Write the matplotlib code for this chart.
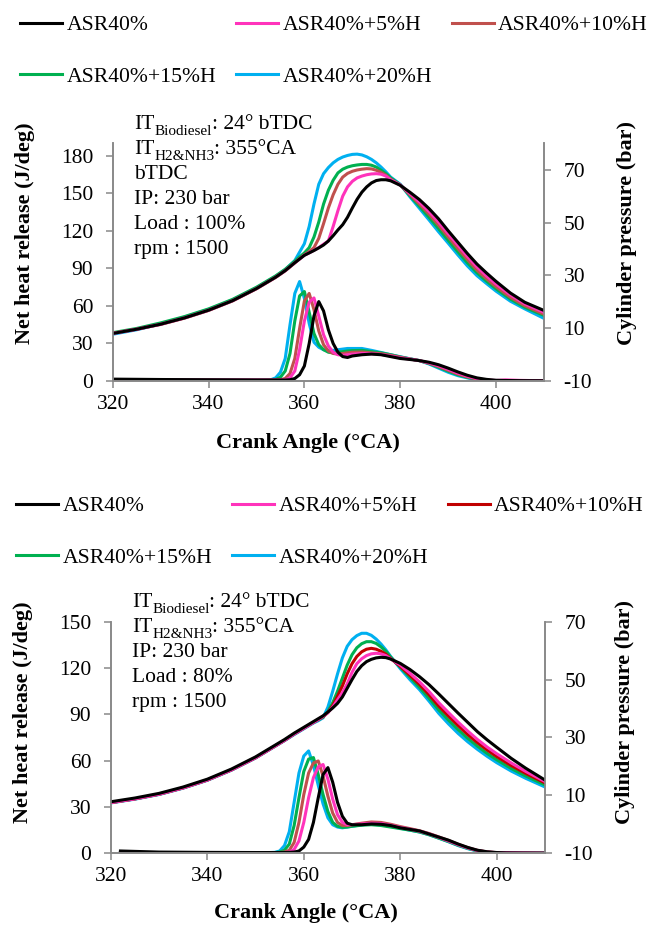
import matplotlib
matplotlib.use('Agg')
import matplotlib.pyplot as plt

plt.rcParams['font.family'] = ['Liberation Serif', 'DejaVu Serif']
plt.rcParams['axes.unicode_minus'] = False

labels = ['ASR40%', 'ASR40%+5%H', 'ASR40%+10%H', 'ASR40%+15%H', 'ASR40%+20%H']

# crank angle grids
ca_p = [320, 325, 330, 335, 340, 345, 350, 354, 356, 358,
        360, 361, 362, 363, 364, 365, 366, 367, 368, 369, 370, 371, 372, 373, 374, 375, 376, 377, 378,
        380, 382, 384, 386, 388, 390, 392, 394, 396, 398, 400, 403, 406, 410]
ca_h = [320, 330, 340, 350, 352, 353, 354, 355, 356, 357, 358, 359, 360, 361, 362, 363, 364, 365, 366,
        367, 368, 369, 370, 372, 374, 376, 378, 380, 382, 384, 386, 388, 390, 392, 394, 396, 398, 400,
        402, 405, 410]
ca_h2 = [322] + ca_h[1:]

# ---- load 100 % : cylinder pressure (bar)
p100_base = [8.0, 9.6, 11.5, 13.9, 16.8, 20.4, 25.0, 29.3, 31.8, 34.8,
             37.6, 38.5, 39.4, 40.4, 41.5, 43.0, 45.0, 47.2, 49.2, 52.0, 55.5, 58.8, 61.5, 63.5, 65.0, 65.9, 66.2, 66.2, 65.8,
             64.1, 61.5, 58.7, 55.3, 51.4, 46.9, 42.6, 38.3, 34.3, 30.9, 27.7, 23.3, 19.8, 16.7]
p100_h5 = [8.0, 9.6, 11.5, 13.9, 16.8, 20.4, 25.0, 29.3, 31.8, 34.8,
           37.6, 38.5, 39.5, 40.5, 41.8, 43.0, 48.5, 54.5, 60.0, 63.5, 65.6, 66.9, 67.6, 68.1, 68.4, 68.5, 68.3, 67.6, 66.2,
           64.2, 61.0, 57.8, 54.2, 50.2, 45.8, 41.5, 37.2, 33.2, 29.8, 26.7, 22.6, 19.2, 16.0]
p100_h10 = [8.1, 9.6, 11.4, 13.8, 16.7, 20.3, 24.9, 29.2, 31.7, 34.7,
            37.8, 39.0, 40.5, 44.0, 49.6, 55.5, 60.5, 64.5, 67.2, 68.6, 69.4, 69.9, 70.2, 70.4, 70.3, 69.8, 69.0, 67.9, 66.4,
            64.2, 60.6, 57.0, 53.2, 49.0, 44.6, 40.2, 36.0, 32.0, 28.7, 25.7, 21.7, 18.5, 15.3]
p100_h15 = [8.3, 9.9, 12.0, 14.4, 17.3, 20.9, 25.5, 29.8, 32.3, 35.4,
            38.5, 40.5, 44.5, 50.2, 57.0, 62.2, 66.0, 68.8, 70.2, 71.0, 71.5, 71.8, 72.0, 72.0, 71.7, 71.0, 69.8, 68.5, 66.9,
            64.3, 60.2, 56.2, 52.0, 47.7, 43.3, 39.0, 34.8, 31.0, 27.8, 24.9, 21.0, 17.9, 14.8]
p100_h20 = [7.7, 9.4, 11.6, 14.2, 17.1, 20.7, 25.3, 29.6, 32.2, 35.6,
            42.0, 48.5, 57.0, 64.5, 68.5, 70.8, 72.6, 73.9, 74.8, 75.4, 75.8, 75.9, 75.6, 74.9, 73.9, 72.6, 71.0, 69.2, 67.2,
            64.5, 59.8, 55.4, 51.0, 46.5, 42.2, 37.8, 33.6, 29.9, 26.9, 24.0, 20.2, 17.3, 13.7]

# ---- load 100 % : net heat release (J/deg)
h100_base = [1.5, 1.2, 1.0, 0.8, 0.8, 0.8, 0.8, 0.8, 0.8, 1.0, 2.0, 5.0, 12.0, 30.0, 52.0, 63.5, 56.0, 41.0, 30.0,
             23.0, 19.5, 18.8, 20.0, 21.0, 21.5, 21.0, 19.5, 18.0, 17.2, 16.3, 15.0, 13.0, 10.3, 7.3, 4.6, 2.5, 1.3, 0.6,
             0.4, 0.3, 0.2]
h100_h5 = [1.0, 0.8, 0.8, 0.8, 0.8, 0.8, 0.8, 0.8, 1.0, 2.5, 8.0, 25.0, 48.0, 63.0, 66.4, 52.0, 37.0, 28.0, 23.0,
           21.0, 20.5, 21.0, 21.5, 22.0, 21.8, 21.2, 20.0, 18.5, 17.5, 16.3, 14.5, 12.2, 9.3, 6.3, 3.8, 1.9, 0.8, 0.4,
           0.9, 0.5, 0.2]
h100_h10 = [1.0, 0.8, 0.8, 0.8, 0.8, 0.8, 0.8, 1.0, 2.0, 6.0, 18.0, 42.0, 64.0, 70.0, 57.0, 40.0, 29.0, 24.0, 22.0,
            21.5, 22.0, 22.5, 23.0, 23.2, 22.5, 21.8, 20.5, 19.0, 17.6, 16.3, 14.2, 11.6, 8.6, 5.6, 3.3, 1.6, 0.6, 0.3,
            0.3, 0.3, 0.2]
h100_h15 = [1.0, 0.8, 0.8, 0.8, 0.8, 0.8, 1.2, 3.0, 8.0, 22.0, 48.0, 68.0, 71.5, 55.0, 38.0, 29.0, 25.0, 23.0, 22.5,
            23.0, 23.5, 24.0, 24.3, 24.5, 23.5, 22.5, 21.0, 19.2, 17.7, 16.3, 14.0, 11.0, 7.9, 5.0, 2.9, 1.3, 0.4, 0.2,
            0.1, 0.1, 0.1]
h100_h20 = [0.8, 0.8, 0.8, 0.8, 0.8, 1.0, 2.5, 7.0, 18.0, 45.0, 70.0, 79.5, 66.0, 46.0, 31.0, 27.0, 25.0, 24.5, 24.5,
            25.0, 25.5, 26.0, 26.0, 26.0, 24.5, 22.8, 21.0, 19.4, 17.8, 16.3, 13.6, 10.3, 7.0, 4.3, 2.5, 1.0, 0.3, 0.0,
            0.0, 0.0, 0.0]

# ---- load 80 % : cylinder pressure (bar)
p80_base = [7.8, 9.1, 10.7, 12.9, 15.6, 19.1, 23.3, 27.3, 29.3, 31.5,
            33.5, 34.5, 35.5, 36.5, 37.5, 38.8, 40.2, 41.8, 44.0, 47.0, 50.0, 52.8, 54.8, 56.2, 57.0, 57.5, 57.7, 57.6, 57.1,
            55.6, 53.5, 51.0, 48.2, 45.0, 41.7, 38.4, 35.2, 32.0, 29.2, 26.6, 22.8, 19.4, 15.3]
p80_h5 = [7.5, 8.8, 10.4, 12.6, 15.3, 18.8, 23.0, 27.0, 29.0, 31.2,
          33.2, 34.2, 35.2, 36.2, 37.3, 38.6, 40.5, 43.0, 45.5, 48.5, 52.5, 55.5, 57.2, 58.3, 58.9, 59.1, 58.9, 58.3, 57.2,
          55.0, 52.2, 49.2, 45.8, 42.0, 38.6, 35.3, 32.2, 29.3, 26.7, 24.4, 21.2, 18.3, 14.8]
p80_h10 = [7.5, 8.8, 10.4, 12.6, 15.3, 18.8, 23.0, 27.0, 29.0, 31.2,
           33.2, 34.2, 35.2, 36.2, 37.2, 38.6, 41.0, 44.3, 47.8, 52.0, 55.5, 58.0, 59.6, 60.5, 60.8, 60.5, 59.8, 58.8, 57.3,
           54.6, 51.5, 48.3, 44.7, 40.8, 37.4, 34.1, 31.0, 28.2, 25.7, 23.4, 20.3, 17.6, 14.3]
p80_h15 = [7.5, 8.8, 10.4, 12.6, 15.3, 18.8, 23.0, 27.0, 29.0, 31.2,
           33.2, 34.2, 35.2, 36.1, 37.0, 39.0, 42.0, 46.0, 50.5, 55.0, 58.6, 61.0, 62.4, 63.1, 63.1, 62.5, 61.3, 59.8, 57.8,
           54.3, 50.8, 47.3, 43.5, 39.5, 36.0, 32.7, 29.7, 27.0, 24.5, 22.3, 19.3, 16.7, 13.6]
p80_h20 = [7.4, 8.7, 10.3, 12.5, 15.2, 18.7, 22.9, 26.9, 28.9, 31.0,
           33.0, 34.0, 35.0, 35.8, 36.8, 40.5, 46.0, 52.0, 57.5, 61.5, 63.8, 65.2, 66.0, 66.0, 65.3, 64.0, 62.3, 60.3, 58.0,
           53.8, 50.0, 46.5, 42.5, 38.3, 34.7, 31.4, 28.5, 25.9, 23.5, 21.3, 18.4, 15.9, 12.9]

# ---- load 80 % : net heat release (J/deg)
h80_base = [1.5, 0.8, 0.6, 0.5, 0.5, 0.5, 0.5, 0.5, 0.5, 0.6, 0.8, 1.5, 4.0, 9.0, 20.0, 36.0, 51.0, 55.5, 46.0,
            33.0, 24.0, 19.5, 18.5, 18.5, 19.0, 18.8, 18.0, 16.5, 15.5, 14.5, 12.5, 10.5, 8.5, 6.0, 3.8, 2.0, 1.0, 0.5,
            0.3, 0.2, 0.1]
h80_h5 = [0.5, 0.5, 0.5, 0.5, 0.5, 0.5, 0.5, 0.5, 0.5, 0.8, 2.5, 8.0, 20.0, 36.0, 49.0, 56.0, 57.5, 48.0, 35.0,
          25.0, 20.0, 18.5, 18.5, 19.0, 19.5, 19.3, 18.2, 16.8, 15.6, 14.3, 12.5, 10.3, 8.0, 5.6, 3.5, 1.8, 0.8, 0.4,
          0.5, 0.3, 0.1]
h80_h10 = [0.5, 0.5, 0.5, 0.5, 0.5, 0.5, 0.5, 0.5, 0.8, 2.0, 7.0, 20.0, 38.0, 52.0, 58.5, 59.8, 50.0, 37.0, 26.0,
           20.0, 18.0, 18.0, 18.5, 19.5, 20.3, 20.0, 18.8, 17.3, 16.0, 14.6, 12.8, 10.6, 8.3, 5.8, 3.6, 1.9, 0.9, 0.4,
           0.3, 0.2, 0.1]
h80_h15 = [0.5, 0.5, 0.5, 0.5, 0.5, 0.5, 0.5, 0.8, 2.0, 6.0, 18.0, 36.0, 53.0, 61.0, 62.0, 51.0, 38.0, 27.0, 20.0,
           17.5, 16.8, 17.0, 17.5, 18.2, 18.5, 18.0, 17.0, 16.0, 15.0, 13.8, 12.0, 9.8, 7.6, 5.2, 3.2, 1.6, 0.7, 0.3,
           0.2, 0.1, 0.1]
h80_h20 = [0.5, 0.5, 0.5, 0.5, 0.5, 0.5, 0.6, 1.5, 5.0, 14.0, 33.0, 52.0, 63.0, 66.3, 57.0, 44.0, 32.0, 23.0, 18.5,
           17.0, 16.5, 17.0, 17.5, 18.5, 18.8, 18.5, 17.5, 16.2, 15.0, 13.8, 12.0, 9.8, 7.5, 5.0, 3.0, 1.5, 0.6, 0.2,
           0.1, 0.1, 0.1]

GREY = '#898989'
LW = 2.2
FS = 15.5
LFS = 15.6
W, H = 650, 926


def style(ax, ax2):
    ax.spines['top'].set_visible(False)
    ax2.spines['top'].set_visible(False)
    for s in ['left', 'bottom', 'right']:
        for a in (ax, ax2):
            a.spines[s].set_color(GREY)
            a.spines[s].set_linewidth(1.2)
    ax.tick_params(axis='y', direction='out', length=5, width=1.1, color=GREY, labelsize=FS, pad=9)
    ax.tick_params(axis='x', direction='out', length=5, width=1.1, color=GREY, labelsize=FS, pad=5)
    ax2.tick_params(axis='y', direction='out', length=5, width=1.1, color=GREY, labelsize=FS, pad=9)
    ax.set_xlim(320, 410)
    ax.set_xticks(range(320, 401, 20))


def note(x, y, main, sub, rest):
    # text with a subscript, e.g. IT_Biodiesel: 24° bTDC
    t1 = tax.text(x / W, 1 - y / H, main, fontsize=FS, ha='left', va='baseline', transform=fig.transFigure)
    if sub is None:
        return
    t2 = tax.annotate(sub, xy=(1, 0), xycoords=t1, fontsize=11, ha='left', va='baseline',
                      xytext=(0, -1), textcoords='offset points')
    tax.annotate(rest, xy=(1, 0), xycoords=(t2, t1), fontsize=FS, ha='left', va='bottom')


def panel(rect, hrr, pres, hcolors, pcolors, ylim, yticks, y2lim, y2ticks, notes, note_x, note_y,
          leg_xy, lab_y, xlab_y, x_center):
    ax = fig.add_axes(rect)
    ax2 = ax.twinx()
    ax2.set_zorder(ax.get_zorder() + 1)
    ax2.patch.set_visible(False)
    ax.patch.set_visible(False)
    for i in range(4, -1, -1):
        ax.plot(hrr[0], hrr[1][i], color=hcolors[i], lw=LW, solid_joinstyle='round')
    lines = [None] * 5
    for i in range(4, -1, -1):
        lines[i], = ax2.plot(ca_p, pres[i], color=pcolors[i], lw=LW, label=labels[i], solid_joinstyle='round')
    style(ax, ax2)
    ax.set_ylim(*ylim)
    ax.set_yticks(yticks)
    ax2.set_ylim(*y2lim)
    ax2.set_yticks(y2ticks)

    order = [0, 3, 1, 4, 2]
    fig.legend([lines[k] for k in order], [labels[k] for k in order], ncol=3, frameon=False,
               loc='upper left', bbox_to_anchor=(leg_xy[0] / W, 1 - leg_xy[1] / H),
               fontsize=LFS, handlelength=1.95, handletextpad=0.2, columnspacing=0.9,
               labelspacing=1.45, borderpad=0, borderaxespad=0)

    for k, n in enumerate(notes):
        note(note_x, note_y + 25 * k, *n)

    fig.text(x_center[0] / W, 1 - lab_y / H, 'Net heat release (J/deg)', rotation=90,
             ha='center', va='center', fontsize=16, fontweight='bold')
    fig.text(x_center[1] / W, 1 - lab_y / H, 'Cylinder pressure (bar)', rotation=90,
             ha='center', va='center', fontsize=16, fontweight='bold')
    fig.text(x_center[2] / W, 1 - xlab_y / H, 'Crank Angle (°CA)',
             ha='center', va='center', fontsize=16, fontweight='bold')


fig = plt.figure(figsize=(6.5, 9.26), dpi=100)
tax = fig.add_axes([0, 0, 1, 1])
tax.axis('off')
tax.set_zorder(10)

notes_top = [('IT', 'Biodiesel', ': 24° bTDC'), ('IT', 'H2&NH3', ': 355°CA'), ('bTDC', None, None),
             ('IP: 230 bar', None, None), ('Load : 100%', None, None), ('rpm : 1500', None, None)]
notes_bot = [('IT', 'Biodiesel', ': 24° bTDC'), ('IT', 'H2&NH3', ': 355°CA'),
             ('IP: 230 bar', None, None), ('Load : 80%', None, None), ('rpm : 1500', None, None)]

col_top = ['#000000', '#FF33BB', '#C0504D', '#00B050', '#00B0F0']
col_bot_p = ['#000000', '#FF33BB', '#C00000', '#00B050', '#00B0F0']

panel([112.7 / W, 1 - 381 / H, 431.3 / W, 237.7 / H],
      (ca_h, [h100_base, h100_h5, h100_h10, h100_h15, h100_h20]),
      [p100_base, p100_h5, p100_h10, p100_h15, p100_h20],
      col_top, col_top, (0, 190), range(0, 181, 30), (-10, 80), range(-10, 71, 20),
      notes_top, 134, 129, (20, 15), 233, 443, (25, 627, 308))

panel([110.8 / W, 1 - 853.3 / H, 434.2 / W, 231.6 / H],
      (ca_h2, [h80_base, h80_h5, h80_h10, h80_h15, h80_h20]),
      [p80_base, p80_h5, p80_h10, p80_h15, p80_h20],
      col_top, col_bot_p, (0, 150), range(0, 151, 30), (-10, 70), range(-10, 71, 20),
      notes_bot, 131.7, 607, (16, 496), 712, 913, (23, 625, 306))

fig.savefig('out.png', dpi=100)
